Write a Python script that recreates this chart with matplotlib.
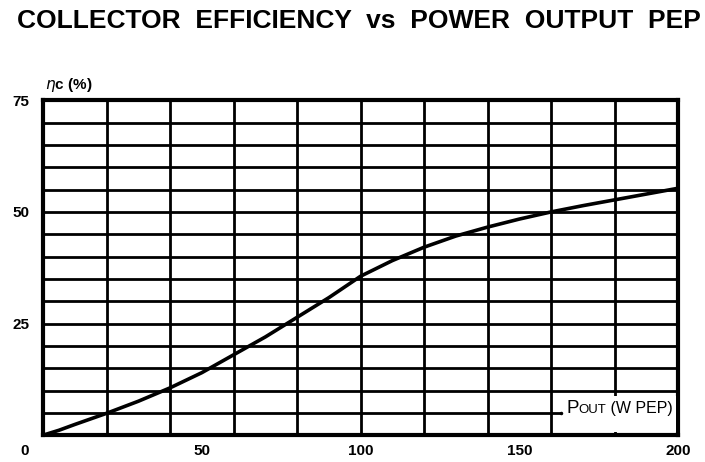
import numpy as np
import matplotlib.pyplot as plt
import matplotlib.transforms as mtransforms

# ---------------------- Data ----------------------

pout = [0, 5, 10, 20, 30, 40, 50, 60, 70, 80, 90, 100, 110, 120, 130, 140, 150, 160, 170, 180, 190, 200]
eff = [0, 1.1, 2.4, 4.9, 7.6, 10.6, 14.0, 18.0, 22.0, 26.4, 30.8, 35.6, 39.1, 42.1, 44.6, 46.6, 48.4, 50.0, 51.4, 52.7, 54.0, 55.3]

xticks = [0, 50, 100, 150, 200]
yticks = [25, 50, 75]

plt.rcParams['font.family'] = ['Liberation Sans', 'DejaVu Sans']

# ---------------------- Figure ----------------------

fig = plt.figure(figsize=(7.05, 4.62), dpi=100)
ax = fig.add_axes([0.061, 0.058, 0.901, 0.725])

ax.set_xlim(0, 200)
ax.set_ylim(0, 75)

# grid every 20 W / 5 %
for gx in np.arange(20, 200, 20):
    ax.axvline(gx, color='black', lw=2.0, zorder=1)
for gy in np.arange(5, 75, 5):
    ax.axhline(gy, color='black', lw=2.0, zorder=1)

ax.plot(pout, eff, color='black', lw=2.6, zorder=3)

for s in ax.spines.values():
    s.set_linewidth(3)

ax.set_xticks(xticks)
ax.set_yticks([0] + yticks)
ax.set_xticklabels([str(t) for t in xticks])
ax.set_yticklabels([''] + [str(t) for t in yticks])
ax.tick_params(length=0, labelsize=11, pad=6)
ax.tick_params(axis='y', pad=10)
for lab in ax.get_xticklabels() + ax.get_yticklabels():
    lab.set_fontweight('bold')

# the "0" under the origin sits a little left of the corner in the original
zero = ax.get_xticklabels()[0]
zero.set_transform(zero.get_transform() + mtransforms.ScaledTranslation(-0.18, 0, fig.dpi_scale_trans))

ax.text(0.003, 1.02, r'$\eta$c (%)', transform=ax.transAxes, fontsize=11,
        fontweight='bold', ha='left', va='bottom')

# axis name inside the plot, "P" large, "OUT" small
base = 4.9
t3 = ax.text(198.4, base, ' (W PEP)', fontsize=11.5, ha='right', va='baseline', zorder=5)
fig.canvas.draw()
x3 = t3.get_window_extent().transformed(ax.transData.inverted()).x0
t2 = ax.text(x3, base, 'OUT', fontsize=9.5, ha='right', va='baseline', zorder=5)
fig.canvas.draw()
x2 = t2.get_window_extent().transformed(ax.transData.inverted()).x0
t1 = ax.text(x2, base, 'P', fontsize=13.5, ha='right', va='baseline', zorder=5)
fig.canvas.draw()
x1 = t1.get_window_extent().transformed(ax.transData.inverted()).x0
ax.fill_between([x1 - 1.5, 199.4], 0.7, 8.7, color='white', zorder=4, lw=0)
ax.plot([x1 - 1.7], [5.0], marker='.', color='black', ms=3, zorder=5)

fig.text(0.509, 0.955, "COLLECTOR  EFFICIENCY  vs  POWER  OUTPUT  PEP",
         ha='center', va='center', fontsize=19, fontweight='bold')

plt.savefig("out.png", dpi=100)
